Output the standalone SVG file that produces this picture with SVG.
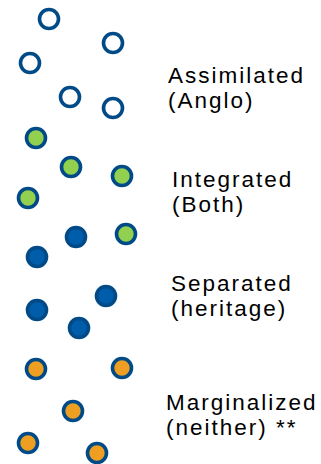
<svg xmlns="http://www.w3.org/2000/svg" width="321" height="464" viewBox="0 0 321 464">
<style>
.c{stroke:#004A87;stroke-width:3.6}
.w{fill:#fff}
.g{fill:#92D050}
.b{fill:#005DAA}
.o{fill:#EE9F21}
text{font-family:"Liberation Sans",Arial,sans-serif;font-size:22.5px;fill:#000;letter-spacing:2px}
</style>
<rect width="321" height="464" fill="#fff"/>
<g id="assimilated">
<circle class="c w" cx="49" cy="19" r="9.5"/>
<circle class="c w" cx="113" cy="43" r="9.5"/>
<circle class="c w" cx="30" cy="63" r="9.5"/>
<circle class="c w" cx="70" cy="97" r="9.5"/>
<circle class="c w" cx="113" cy="108" r="9.5"/>
<text x="168" y="83">Assimilated</text>
<text x="168" y="108">(Anglo)</text>
</g>
<g id="integrated">
<circle class="c g" cx="36" cy="138" r="9.5"/>
<circle class="c g" cx="71" cy="167" r="9.5"/>
<circle class="c g" cx="122" cy="176" r="9.5"/>
<circle class="c g" cx="28" cy="198" r="9.5"/>
<circle class="c g" cx="126" cy="234" r="9.5"/>
<text x="172" y="187">Integrated</text>
<text x="172" y="212">(Both)</text>
</g>
<g id="separated">
<circle class="c b" cx="76" cy="237" r="9.5"/>
<circle class="c b" cx="37" cy="257" r="9.5"/>
<circle class="c b" cx="106" cy="296" r="9.5"/>
<circle class="c b" cx="37" cy="310" r="9.5"/>
<circle class="c b" cx="79" cy="328" r="9.5"/>
<text x="171" y="291">Separated</text>
<text x="171" y="316">(heritage)</text>
</g>
<g id="marginalized">
<circle class="c o" cx="36" cy="369" r="9.5"/>
<circle class="c o" cx="122" cy="368" r="9.5"/>
<circle class="c o" cx="73" cy="411" r="9.5"/>
<circle class="c o" cx="28" cy="443" r="9.5"/>
<circle class="c o" cx="97" cy="453" r="9.5"/>
<text x="166" y="410">Marginalized</text>
<text x="166" y="435">(neither) **</text>
</g>
<g id="connectors"/>
</svg>
